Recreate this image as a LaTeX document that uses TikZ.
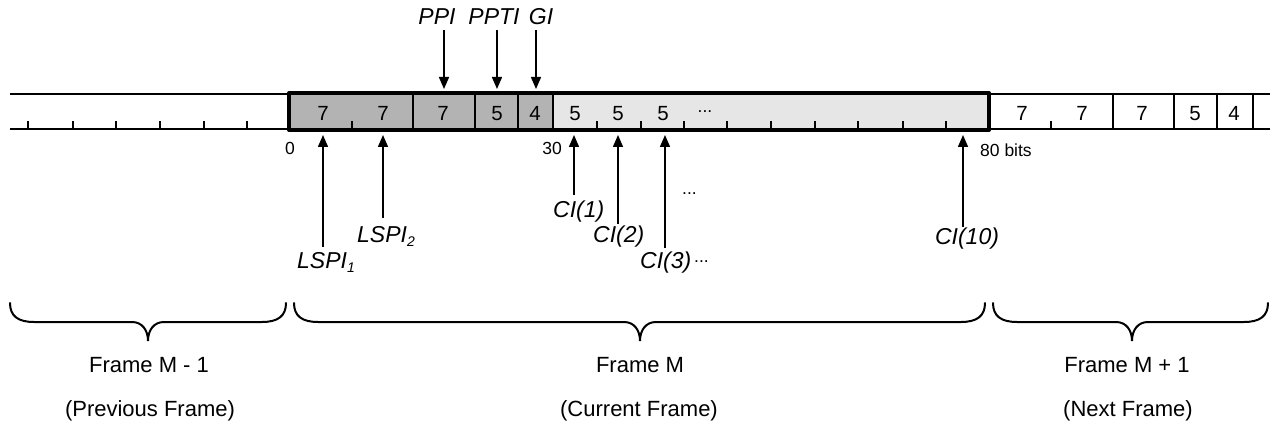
\documentclass[tikz,border=0pt]{standalone}
\usepackage{fontspec}
\setmainfont{Liberation Sans}
\usetikzlibrary{arrows.meta}
\definecolor{darkfld}{RGB}{179,179,179}
\definecolor{lightfld}{RGB}{230,230,230}
\tikzset{
  lbl/.style={font=\fontsize{23}{27}\selectfont\itshape, inner sep=0pt},
  num/.style={font=\fontsize{20.5}{23}\selectfont, inner sep=0pt, anchor=base},
  small/.style={font=\fontsize{17.5}{20}\selectfont, inner sep=0pt},
  frm/.style={font=\fontsize{22}{26}\selectfont, inner sep=0pt, anchor=base},
  arr/.style={line width=1.5pt, -{Triangle[length=12pt,width=10pt]}},
  thinline/.style={line width=1.5pt},
  outline/.style={line width=2pt},
  thickbox/.style={line width=4pt, line join=round},
  brc/.style={line width=2pt, line cap=round},
}
\newcommand{\subidx}[1]{\raisebox{-4pt}{\fontsize{14}{14}\selectfont #1}}
\begin{document}
\begin{tikzpicture}[x=1pt,y=-1pt]
\useasboundingbox (0,0) rectangle (1270,425);
% fills
\fill[darkfld] (289,93) rectangle (553,130);
\fill[lightfld] (553,93) rectangle (989,130);
% outer lines
\draw[outline] (10,94) -- (289,94);
\draw[outline] (10,129.5) -- (289,129.5);
\draw[outline] (989,94) -- (1270,94);
\draw[outline] (989,129.5) -- (1270,129.5);
% ticks
\foreach \x in {28,73,116,160,204,247,352,597,641,684,727,771,815,858,903,946,1051}
  \draw[thinline] (\x,129.5) -- (\x,121.5);
% dividers
\foreach \x in {413,475,518,553,1113,1174,1217,1253}
  \draw[thinline] (\x,94) -- (\x,129.5);
% thick frame box
\draw[thickbox] (289,93) rectangle (989,130);
% digits
\node[num] (d1) at (323,120.5) {7};
\node[num] (d2) at (383,120.5) {7};
\node[num] (d3) at (443,120.5) {7};
\node[num] (d4) at (497,120.5) {5};
\node[num] (d5) at (535,120.5) {4};
\node[num] (d6) at (575,120.5) {5};
\node[num] (d7) at (618,120.5) {5};
\node[num] (d8) at (663,120.5) {5};
\node[small, anchor=base] (dd) at (705,113) {...};
\node[num] (n1) at (1022,120.5) {7};
\node[num] (n2) at (1082,120.5) {7};
\node[num] (n3) at (1142,120.5) {7};
\node[num] (n4) at (1195,120.5) {5};
\node[num] (n5) at (1234,120.5) {4};
% bit labels
\node[small, anchor=base] (b0) at (290,155) {0};
\node[small, anchor=base] (b30) at (552,155) {30};
\node[small, anchor=base west] (b80) at (980,157) {80 bits};
% top labels and arrows
\node[lbl, anchor=base] (ppi) at (437,25) {PPI};
\node[lbl, anchor=base] (ppti) at (494,25) {PPTI};
\node[lbl, anchor=base] (gi) at (541,25) {GI};
\coordinate (ppis) at (444,30);  \coordinate (ppie) at (444,89);
\coordinate (pptis) at (497,30); \coordinate (pptie) at (497,89);
\coordinate (gis) at (536,30);   \coordinate (gie) at (536,89);
\draw[arr] (ppis) -- (ppie);
\draw[arr] (pptis) -- (pptie);
\draw[arr] (gis) -- (gie);
% bottom labels
\node[lbl, anchor=base west] (lspia) at (297,268) {LSPI\subidx{1}};
\node[lbl, anchor=base west] (lspib) at (357,242) {LSPI\subidx{2}};
\node[lbl, anchor=base west] (cia) at (553,218) {CI(1)};
\node[lbl, anchor=base west] (cib) at (593,243) {CI(2)};
\node[lbl, anchor=base west] (cic) at (640,268) {CI(3)};
\node[lbl, anchor=base] (cij) at (967,244) {CI(10)};
\node[small, anchor=base west] (dotsa) at (682,194) {...};
\node[small, anchor=base west] (dotsb) at (694,262) {...};
% up arrows
\coordinate (la) at (323,247); \coordinate (lat) at (323,135);
\coordinate (lb) at (383,218); \coordinate (lbt) at (383,135);
\coordinate (ca) at (574,195); \coordinate (cat) at (574,135);
\coordinate (cb) at (618,224); \coordinate (cbt) at (618,135);
\coordinate (cc) at (665,248); \coordinate (cct) at (665,135);
\coordinate (cj) at (963,227); \coordinate (cjt) at (963,135);
\draw[arr] (la) -- (lat);
\draw[arr] (lb) -- (lbt);
\draw[arr] (ca) -- (cat);
\draw[arr] (cb) -- (cbt);
\draw[arr] (cc) -- (cct);
\draw[arr] (cj) -- (cjt);
% braces
\foreach \xa/\xm/\xb in {10/148/286, 294/640/985, 993/1132/1268}{
  \draw[brc] (\xa,303) .. controls (\xa,316) and (\xa+8,322) .. (\xa+24,322)
    -- (\xm-16,322) .. controls (\xm-6,322) and (\xm,330) .. (\xm,341)
    .. controls (\xm,330) and (\xm+6,322) .. (\xm+16,322)
    -- (\xb-24,322) .. controls (\xb-8,322) and (\xb,316) .. (\xb,303);
}
% frame labels
\node[frm] (fa) at (149,372) {Frame M - 1};
\node[frm] (fb) at (640,372) {Frame M};
\node[frm] (fc) at (1127,372) {Frame M + 1};
\node[frm] (pa) at (150,416) {(Previous Frame)};
\node[frm] (pb) at (639,416) {(Current Frame)};
\node[frm] (pc) at (1128,416) {(Next Frame)};
\end{tikzpicture}
\end{document}
